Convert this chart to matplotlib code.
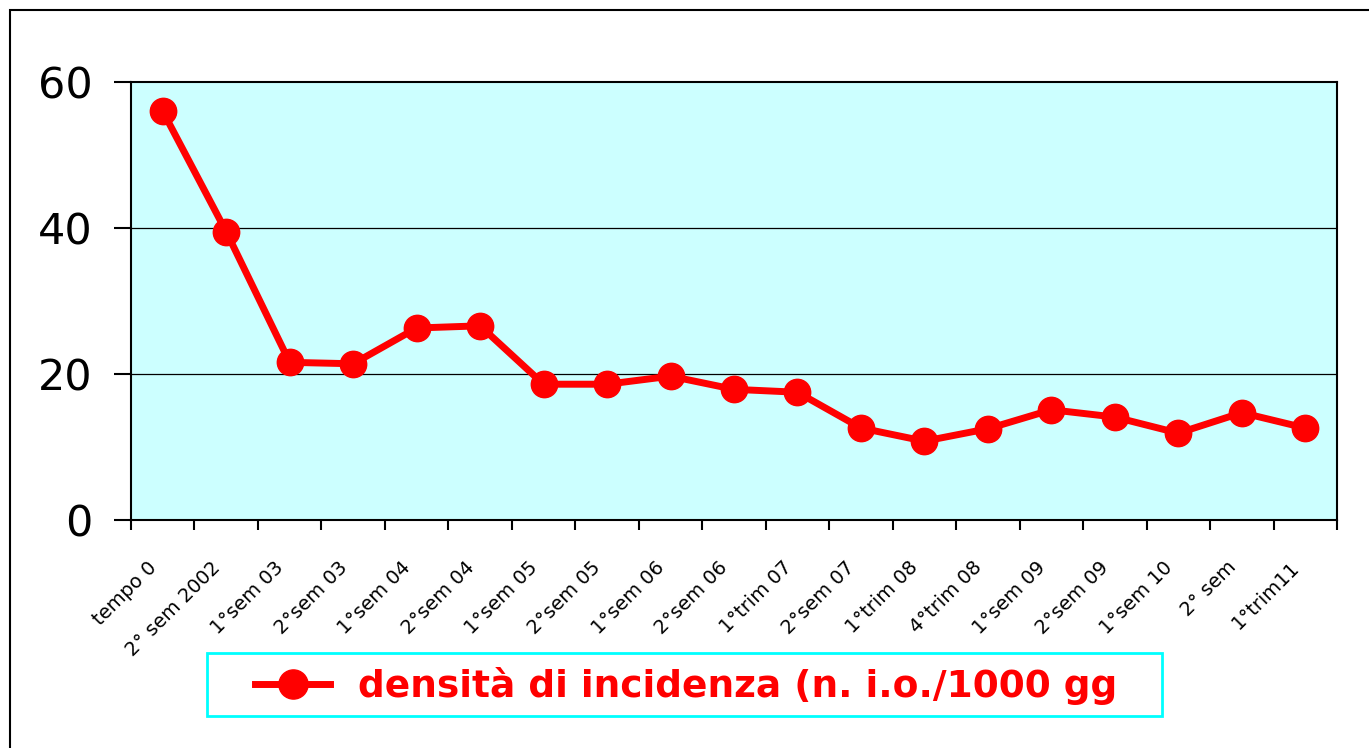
import matplotlib
matplotlib.use("Agg")
import matplotlib.pyplot as plt
from matplotlib.patches import Rectangle
from matplotlib.lines import Line2D
import matplotlib.transforms as mtransforms

categories = ["tempo 0", "2° sem 2002", "1°sem 03", "2°sem 03", "1°sem 04", "2°sem 04",
              "1°sem 05", "2°sem 05", "1°sem 06", "2°sem 06", "1°trim 07", "2°sem 07",
              "1°trim 08", "4°trim 08", "1°sem 09", "2°sem 09", "1°sem 10", "2° sem",
              "1°trim11"]
values = [56.0, 39.5, 21.6, 21.4, 26.3, 26.6, 18.6, 18.6, 19.7, 17.9, 17.5, 12.6,
          10.8, 12.5, 15.1, 14.1, 11.9, 14.7, 12.6]
series_label = "densità di incidenza (n. i.o./1000 gg"
yticks = [0, 20, 40, 60]

plt.rcParams['font.family'] = ['DejaVu Sans']

W, H = 1369, 748
fig = plt.figure(figsize=(W / 100, H / 100), dpi=100)
ax = fig.add_axes([131 / W, 1 - 520 / H, (1337 - 131) / W, (520 - 82) / H])
ax.set_facecolor("#ccffff")

n = len(categories)
x = list(range(n))
ax.plot(x, values, color="#ff0000", lw=5, marker="o", markersize=19,
        markerfacecolor="#ff0000", markeredgecolor="#ff0000", zorder=5,
        solid_joinstyle="round")

ax.set_xlim(-0.5, n - 0.5)
ax.set_ylim(0, 60)
ax.set_yticks(yticks)
ax.set_yticklabels([str(v) for v in yticks], fontsize=31)
ax.tick_params(axis="y", length=12.5, width=1.5, pad=15, direction="out")

for v in [20, 40]:
    ax.axhline(v, color="black", lw=0.9, zorder=1)

ax.set_xticks(x)
ax.set_xticklabels(categories, rotation=45, ha="right", rotation_mode="anchor",
                   va="center", fontsize=14)
ax.tick_params(axis="x", which="major", length=0, pad=32)
ax.set_xticks([i - 0.5 for i in range(n + 1)], minor=True)
ax.tick_params(axis="x", which="minor", length=7, width=1.5, direction="out")
offset = mtransforms.ScaledTranslation(-9 / 100, 0, fig.dpi_scale_trans)
for lab in ax.get_xticklabels():
    lab.set_transform(lab.get_transform() + offset)

for s in ax.spines.values():
    s.set_linewidth(1.5)
    s.set_color("black")

# outer frame
fig.add_artist(Rectangle((10 / W, -0.1), 1.2, 1 - 10 / H + 0.1, transform=fig.transFigure,
                         fill=False, edgecolor="black", lw=1.5, clip_on=False))

# legend box
fig.add_artist(Rectangle((207 / W, 1 - 716 / H), (1162 - 207) / W, (716 - 653) / H,
                         transform=fig.transFigure, fill=False, edgecolor="#00ffff",
                         lw=2, clip_on=False))
handle = Line2D([], [], color="#ff0000", lw=5, marker="o", markersize=21)
leg = fig.legend([handle], [series_label], loc="center left",
                 bbox_to_anchor=(255 / W, 1 - 686 / H), borderaxespad=0,
                 frameon=False, borderpad=0,
                 prop={"weight": "bold", "size": 27}, labelcolor="#ff0000",
                 handlelength=2.0, handletextpad=0.75)

fig.savefig("out.png", dpi=100)
